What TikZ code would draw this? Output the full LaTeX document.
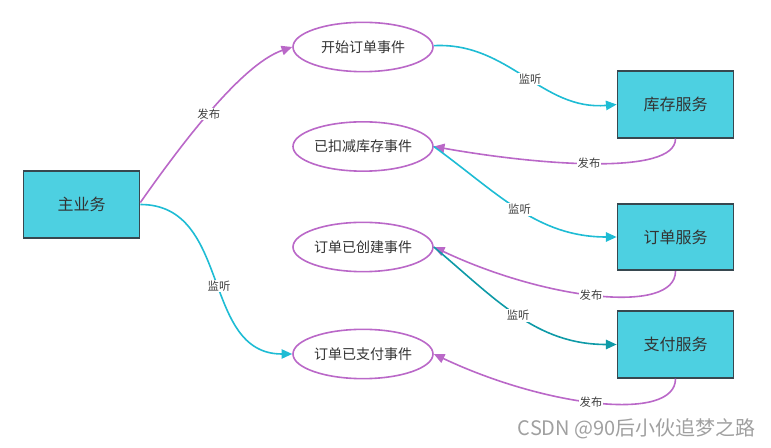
\documentclass[tikz,border=0pt]{standalone}
\usepackage{fontspec}
\setmainfont{Noto Sans CJK SC}
\usetikzlibrary{shapes.geometric,arrows.meta}
\definecolor{boxfill}{HTML}{4DD0E1}
\definecolor{boxdraw}{HTML}{37474F}
\definecolor{evpurple}{HTML}{BA68C8}
\definecolor{lcyan}{HTML}{1EBCD4}
\definecolor{lteal}{HTML}{0E9AA7}
\definecolor{wmgray}{HTML}{A0A0A0}
\begin{document}
\begin{tikzpicture}[x=0.75pt,y=0.75pt,
  svc/.style={draw=boxdraw,line width=1.3pt,fill=boxfill,minimum width=87pt,minimum height=50pt,inner sep=0pt,font=\fontsize{12}{14}\selectfont,text=black!80},
  ev/.style={ellipse,draw=evpurple,line width=1.2pt,fill=white,minimum width=105pt,minimum height=37pt,inner sep=0pt,font=\fontsize{10.5}{12}\selectfont,text=black!80},
  conn/.style={line width=1.2pt,-{Triangle[length=8pt,width=7pt]}},
  pub/.style={conn,draw=evpurple},
  sub/.style={conn,draw=lcyan},
  subd/.style={conn,draw=lteal},
  lbl/.style={fill=white,inner sep=0.8pt,font=\fontsize{8.5}{10}\selectfont,text=black!75}
]
\useasboundingbox (0,0) rectangle (771,-448);
\node[svc] (main) at (81.5,-204.5) {主业务};
\node[svc] (stock) at (675.5,-104.5) {库存服务};
\node[svc] (order) at (675.5,-237) {订单服务};
\node[svc] (pay) at (675.5,-344.5) {支付服务};
\node[ev] (e1) at (363,-47) {开始订单事件};
\node[ev] (e2) at (363,-146.5) {已扣减库存事件};
\node[ev] (e3) at (363,-247) {订单已创建事件};
\node[ev] (e4) at (363,-354) {订单已支付事件};

\draw[pub] ([yshift=1.5pt]main.east) .. controls +(33,47) and +(-53,-18) .. node[lbl,pos=0.5] {发布} (e1.west);
\draw[sub] (main.east) to[out=0,in=180,looseness=1.1] node[lbl,pos=0.53] {监听} (e4.west);
\draw[sub] ([yshift=1pt]e1.east) to[out=3,in=185] node[lbl,pos=0.53] {监听} (stock.west);
\draw[pub] (stock.south) .. controls +(0,-37) and +(107,-19) .. node[lbl,pos=0.52] {发布} (e2.east);
\draw[sub] (e2.east) to[out=-36,in=180] node[lbl,pos=0.5] {监听} (order.west);
\draw[pub] (order.south) .. controls +(0,-44) and +(112,-53) .. node[lbl,pos=0.52] {发布} (e3.east);
\draw[subd] (e3.east) to[out=-40,in=180] node[lbl,pos=0.5] {监听} (pay.west);
\draw[pub] (pay.south) .. controls +(0,-44) and +(112,-53) .. node[lbl,pos=0.52] {发布} (e4.east);

\node[anchor=east,text=wmgray,font=\fontsize{15}{17}\selectfont,inner sep=0pt] (wm) at (756,-429) {CSDN @90后小伙追梦之路};
\end{tikzpicture}
\end{document}
